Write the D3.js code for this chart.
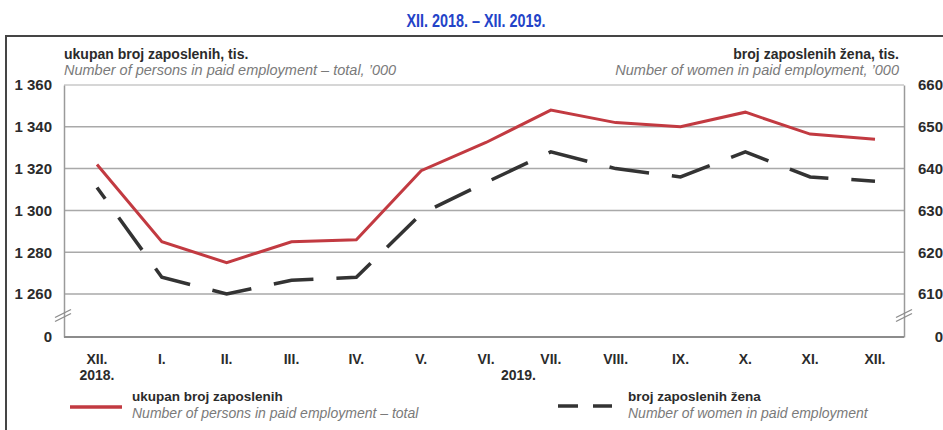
<!DOCTYPE html>
<html>
<head>
<meta charset="utf-8">
<script src="https://cdn.jsdelivr.net/npm/d3@7"></script>
<style>
  body { margin: 0; background: #fff; }
  svg { display: block; font-family: "Liberation Sans", Arial, sans-serif; }
</style>
</head>
<body>
<script>
// month labels (XII. 2018. - XII. 2019.)
var months = ['XII.', 'I.', 'II.', 'III.', 'IV.', 'V.', 'VI.', 'VII.', 'VIII.', 'IX.', 'X.', 'XI.', 'XII.'];
var years = ['2018.', '2019.'];

// persons in paid employment - total, '000
var totalValues = [1322, 1285, 1275, 1285, 1286, 1319, 1332.5, 1348, 1342, 1340, 1347, 1336.5, 1334];
// women in paid employment, '000
var womenValues = [635.5, 614, 610, 613.3, 614, 629.2, 636.7, 644, 640, 638, 644, 638, 637];

var leftTicks = [0, 1260, 1280, 1300, 1320, 1340, 1360];
var rightTicks = [0, 610, 620, 630, 640, 650, 660];

var width = 943;
var height = 430;

var svg = d3.select('body').append('svg')
  .attr('width', width)
  .attr('height', height);

// outer frame (top and left edge)
svg.append('path')
  .attr('d', 'M6,430V36H943')
  .attr('fill', 'none')
  .attr('stroke', '#454545')
  .attr('stroke-width', 2);

// title, squeezed to look like a condensed face
svg.append('text')
  .attr('transform', 'translate(476,27) scale(0.8,1)')
  .attr('text-anchor', 'middle')
  .style('font-weight', 'bold')
  .style('font-size', '18px')
  .attr('fill', '#2343c8')
  .text('XII. 2018. – XII. 2019.');

var plotLeft = 64;
var plotRight = 904;

var x = d3.scalePoint()
  .domain(d3.range(months.length))
  .range([97, 875]);

// broken axes: 0 at the bottom, then 1260..1360 / 610..660
var yL = d3.scaleLinear()
  .domain([0, 1260, 1360])
  .range([337, 294, 85]);

var yR = d3.scaleLinear()
  .domain([0, 610, 660])
  .range([337, 294, 85]);

function spaced(v) {
  return String(v).replace(/\B(?=(\d{3})+$)/g, ' ');
}

// gridlines
svg.append('g')
  .selectAll('line')
  .data(leftTicks.slice(1))
  .enter()
  .append('line')
    .attr('x1', plotLeft)
    .attr('x2', plotRight)
    .attr('y1', function (d) { return yL(d); })
    .attr('y2', function (d) { return yL(d); })
    .attr('stroke', function (d) { return d === 1360 ? '#c8c8c8' : '#a9a9a9'; })
    .attr('stroke-width', 1.5);

// left axis
var leftAxis = svg.append('g')
  .attr('transform', 'translate(' + plotLeft + ',0)')
  .call(d3.axisLeft(yL).tickValues(leftTicks).tickSize(0).tickPadding(12).tickFormat(spaced));

// right axis
var rightAxis = svg.append('g')
  .attr('transform', 'translate(' + plotRight + ',0)')
  .call(d3.axisRight(yR).tickValues(rightTicks).tickSize(0).tickPadding(12));

rightAxis.selectAll('text')
  .attr('x', 39)
  .attr('text-anchor', 'end');

[leftAxis, rightAxis].forEach(function (g) {
  g.select('.domain').attr('stroke', '#9a9a9a').attr('stroke-width', 1.5);
  g.selectAll('text')
    .style('font-size', '15px')
    .style('font-weight', 'bold')
    .style('font-family', '"Liberation Sans", Arial, sans-serif')
    .attr('fill', '#2b2b2b');
});

// baseline at 0
svg.append('line')
  .attr('x1', plotLeft)
  .attr('x2', plotRight)
  .attr('y1', yL(0))
  .attr('y2', yL(0))
  .attr('stroke', '#8c8c8c')
  .attr('stroke-width', 2);

// axis break marks
var breakY = (yL(0) + yL(1260)) / 2;
[plotLeft - 1, plotRight].forEach(function (bx) {
  [-2, 2].forEach(function (off) {
    svg.append('line')
      .attr('x1', bx - 8)
      .attr('y1', breakY + 4 + off)
      .attr('x2', bx + 8)
      .attr('y2', breakY - 4 + off)
      .attr('stroke', '#8c8c8c')
      .attr('stroke-width', 1.3);
  });
});

// x labels
var xLabels = svg.append('g')
  .style('font-size', '14px')
  .style('font-weight', 'bold')
  .attr('fill', '#2b2b2b')
  .attr('text-anchor', 'middle');

xLabels.selectAll('text.month')
  .data(months)
  .enter()
  .append('text')
    .attr('class', 'month')
    .attr('x', function (d, i) { return x(i); })
    .attr('y', 364)
    .text(function (d) { return d; });

xLabels.append('text')
  .attr('x', x(0))
  .attr('y', 380)
  .text(years[0]);

xLabels.append('text')
  .attr('x', (x(6) + x(7)) / 2)
  .attr('y', 380)
  .text(years[1]);

// two-line captions: bold Croatian line over an italic English one
function twoLine(g, tx, anchor, bold, italic, y1, y2, size) {
  g.append('text')
    .attr('x', tx).attr('y', y1)
    .attr('text-anchor', anchor)
    .style('font-size', size + 'px')
    .style('font-weight', 'bold')
    .attr('fill', '#2b2b2b')
    .text(bold);
  g.append('text')
    .attr('x', tx).attr('y', y2)
    .attr('text-anchor', anchor)
    .style('font-size', (size + 0.5) + 'px')
    .style('font-style', 'italic')
    .attr('fill', '#7a7a7a')
    .text(italic);
}

twoLine(svg, 64, 'start', 'ukupan broj zaposlenih, tis.', 'Number of persons in paid employment – total, \u2019000', 59, 75, 14);
twoLine(svg, 899, 'end', 'broj zaposlenih žena, tis.', 'Number of women in paid employment, \u2019000', 59, 75, 14);

// lines
var lineL = d3.line()
  .x(function (d, i) { return x(i); })
  .y(function (d) { return yL(d); });

var lineR = d3.line()
  .x(function (d, i) { return x(i); })
  .y(function (d) { return yR(d); });

svg.append('path')
  .datum(womenValues)
  .attr('d', lineR)
  .attr('fill', 'none')
  .attr('stroke', '#333')
  .attr('stroke-width', 3.5)
  .attr('stroke-dasharray', '40,23')
  .attr('stroke-dashoffset', 26);

svg.append('path')
  .datum(totalValues)
  .attr('d', lineL)
  .attr('fill', 'none')
  .attr('stroke', '#c23a41')
  .attr('stroke-width', 3);

// legend
svg.append('line')
  .attr('x1', 70).attr('x2', 122)
  .attr('y1', 407).attr('y2', 407)
  .attr('stroke', '#c23a41')
  .attr('stroke-width', 3.5);

svg.append('line')
  .attr('x1', 558).attr('x2', 612)
  .attr('y1', 406).attr('y2', 406)
  .attr('stroke', '#333')
  .attr('stroke-width', 3.5)
  .attr('stroke-dasharray', '20,15');

twoLine(svg, 132, 'start', 'ukupan broj zaposlenih', 'Number of persons in paid employment – total', 401, 418, 13.5);
twoLine(svg, 628, 'start', 'broj zaposlenih žena', 'Number of women in paid employment', 401, 418, 13.5);
</script>
</body>
</html>
